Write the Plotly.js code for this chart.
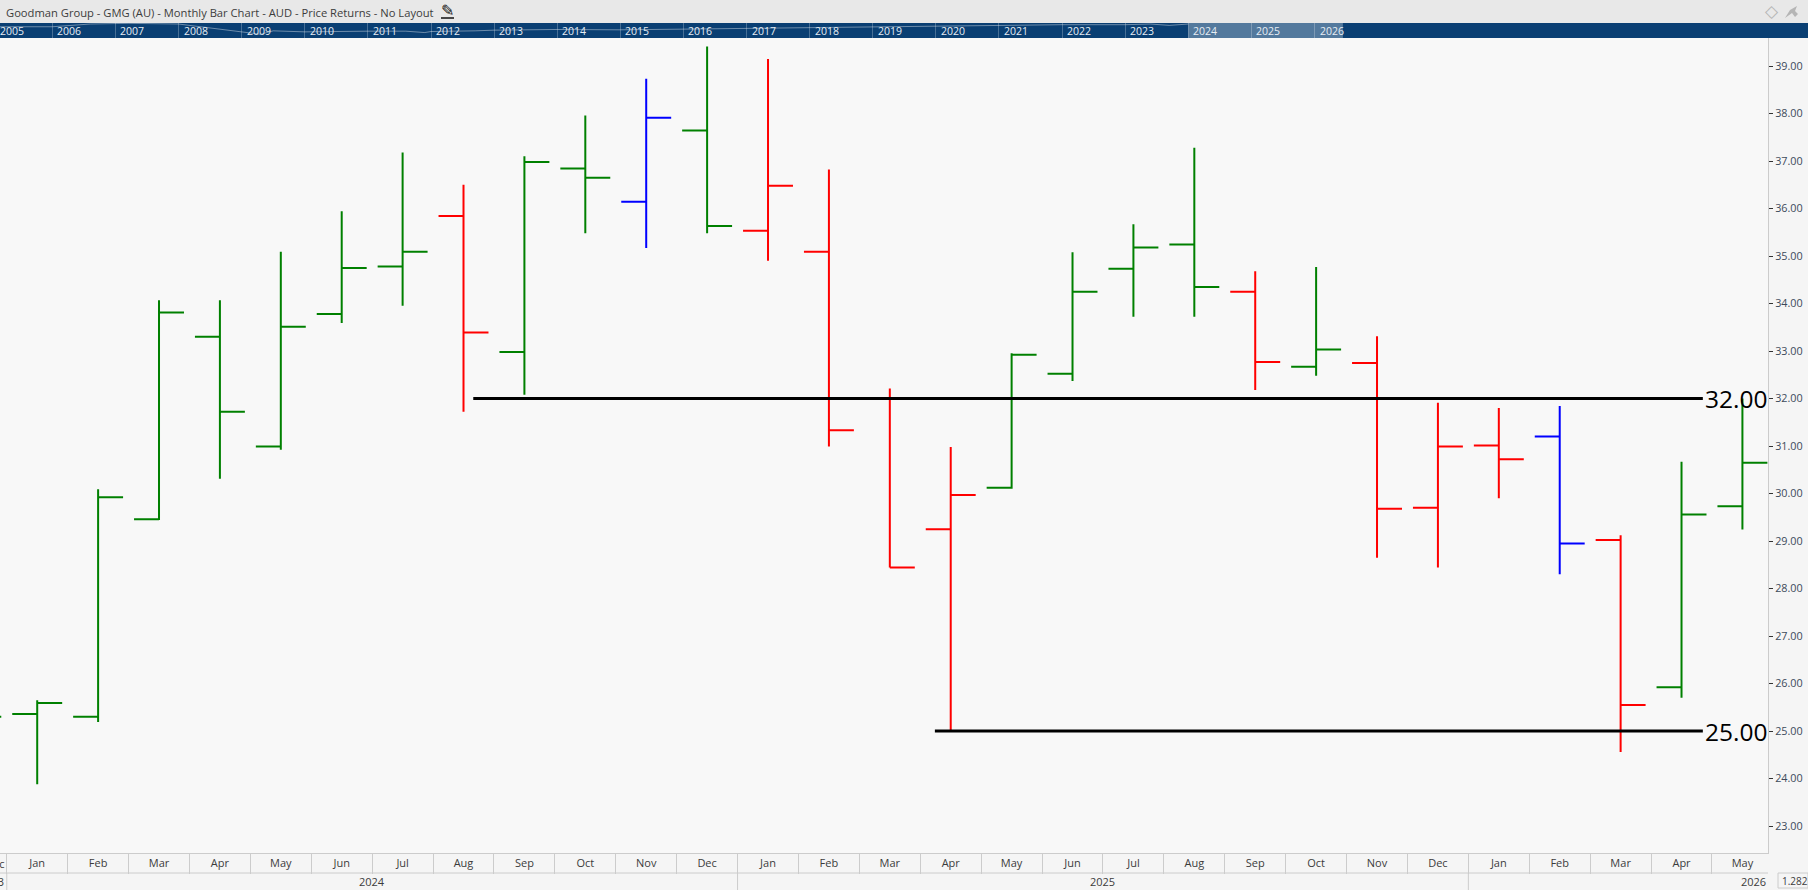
<!DOCTYPE html>
<html>
<head>
<meta charset="utf-8">
<script src="https://cdn.plot.ly/plotly-3.0.1.min.js"></script>
<style>html,body{margin:0;padding:0;background:#f5f5f5;overflow:hidden}</style>
</head>
<body>
<div id="chart" style="width:1808px;height:890px"></div>
<script>
// monthly bars, Jan 2024 = index 0, Dec 2023 is the clipped one on the left edge
const monthLabels = ['Jan','Feb','Mar','Apr','May','Jun','Jul','Aug','Sep','Oct','Nov','Dec',
                     'Jan','Feb','Mar','Apr','May','Jun','Jul','Aug','Sep','Oct','Nov','Dec',
                     'Jan','Feb','Mar','Apr','May'];
const barIndex = [-1,0,1,2,3,4,5,6,7,8,9,10,11,12,13,14,15,16,17,18,19,20,21,22,23,24,25,26,27,28];
const opens  = [25.0,25.36,25.30,29.46,33.30,30.99,33.78,34.78,35.84,32.98,36.84,36.14,37.64,35.53,35.09,32.0,29.25,30.12,32.52,34.73,35.24,34.25,32.67,32.75,29.70,31.01,31.20,29.02,25.92,29.73];
const highs  = [25.5,25.65,30.09,34.07,34.07,35.09,35.94,37.18,36.50,37.10,37.96,38.73,39.41,39.15,36.82,32.21,30.98,32.95,35.08,35.67,37.28,34.68,34.77,33.31,31.91,31.80,31.84,29.12,30.67,32.0];
const lows   = [25.0,23.88,25.19,29.44,30.31,30.92,33.59,33.95,31.72,32.08,35.48,35.17,35.48,34.90,30.99,28.44,24.99,30.10,32.37,33.72,33.72,32.18,32.48,28.65,28.44,29.90,28.30,24.56,25.70,29.24];
const closes = [25.30,25.59,29.92,33.81,31.72,33.51,34.75,35.09,33.39,36.98,36.65,37.91,35.63,36.48,31.33,28.44,29.97,32.92,34.25,35.18,34.35,32.77,33.03,29.68,30.99,30.72,28.95,25.55,29.56,30.65];
const barColors = ['g','g','g','g','g','g','g','g','r','g','g','b','g','r','r','r','r','g','g','g','g','r','g','r','r','r','b','r','g','g'];

// hand drawn levels
const levelPrices = [32, 25];
const levelStarts = [7.16, 14.74];
const levelEnds   = [27.35, 27.35];

// overview strip
const overviewYears  = [2005.0,2006,2006.6,2007.2,2008,2008.6,2009,2009.3,2009.5,2010,2011,2011.6,2011.9,2012,2012.7,2013,2014,2015,2016,2017,2018,2019,2020,2021,2022,2023,2023.4,2023.7,2024];
const overviewLevels = [33,33,41,43,41,28,18,11,21,18,20,20,16,19,21,23,25,24,26,28,31,33,35,38,39,39,41,37,41];
const overviewYearLabels = [2005,2006,2007,2008,2009,2010,2011,2012,2013,2014,2015,2016,2017,2018,2019,2020,2021,2022,2023,2024,2025,2026];

const GREEN = '#008000';
const RED = '#ff0000';
const BLUE = '#0000ff';
const FONT = '"Open Sans", sans-serif';
const TEXT = '#3c3c3c';
const RULE = '#cccccc';
const W = 1808, H = 890;

function ohlcTrace(key, color) {
  const keep = barIndex.map((_, i) => i).filter(i => barColors[i] === key);
  return {
    type: 'ohlc',
    x: keep.map(i => barIndex[i]),
    open: keep.map(i => opens[i]),
    high: keep.map(i => highs[i]),
    low: keep.map(i => lows[i]),
    close: keep.map(i => closes[i]),
    tickwidth: 0.41,
    increasing: { line: { color, width: 2 } },
    decreasing: { line: { color, width: 2 } },
    hoverinfo: 'none',
    showlegend: false,
  };
}

const levelTraces = levelPrices.map((p, i) => ({
  type: 'scatter', mode: 'lines',
  x: [levelStarts[i], levelEnds[i]], y: [p, p],
  line: { color: '#000', width: 3 },
  hoverinfo: 'none', showlegend: false,
}));

const overviewTrace = {
  type: 'scatter', mode: 'lines',
  x: overviewYears, y: overviewLevels,
  xaxis: 'x2', yaxis: 'y2',
  line: { color: 'rgba(255,255,255,0.4)', width: 1 },
  hoverinfo: 'none', showlegend: false,
};

const data = [ohlcTrace('g', GREEN), ohlcTrace('r', RED), ohlcTrace('b', BLUE), ...levelTraces, overviewTrace];

const px = v => v / W;      // pixel to paper x
const py = v => 1 - v / H;  // pixel to paper y

const separators = [];
for (let i = -0.5; i <= 28.5; i += 1) separators.push(i);

const annotations = [];
function txt(text, xref, x, y, opts) {
  annotations.push(Object.assign({
    text, xref, x, yref: 'paper', y: py(y), showarrow: false,
    xanchor: 'left', yanchor: 'middle',
    font: { family: FONT, size: 11, color: TEXT },
  }, opts || {}));
}
txt('Goodman Group - GMG (AU) - Monthly Bar Chart - AUD - Price Returns - No Layout', 'paper', px(4), 12, { font: { family: FONT, size: 11.2, color: TEXT } });
txt('✎', 'paper', px(439), 11, { font: { family: 'DejaVu Sans', size: 16, color: '#111' } });
txt('◇', 'paper', px(1763), 11, { font: { family: 'DejaVu Sans', size: 17, color: '#b5b5b5' } });

// overview year labels, 2005 starts left of the strip's range so it hangs off the paper edge
overviewYearLabels.forEach(y => {
  annotations.push({
    text: String(y),
    xref: y === 2005 ? 'paper' : 'x2', x: y === 2005 ? 0 : y,
    yref: 'paper', y: py(30.5),
    xshift: y === 2005 ? -2 : 3, showarrow: false, xanchor: 'left', yanchor: 'middle',
    font: { family: FONT, size: 10.5, color: '#e6edf4' },
  });
});

// lower date row
txt('Dec', 'x', -0.52, 863, { xanchor: 'right' });
txt('2023', 'x', -0.52, 881, { xanchor: 'right' });
txt('2024', 'x', 5.5, 881, { xanchor: 'center' });
txt('2025', 'x', 17.5, 881, { xanchor: 'center' });
txt('2026', 'x', 28.18, 881, { xanchor: 'center' });
txt('1.282', 'paper', px(1780), 881, { font: { family: FONT, size: 10, color: TEXT } });

// level labels
levelPrices.forEach(p => {
  annotations.push({
    text: p.toFixed(2), xref: 'paper', x: px(1769), yref: 'y', y: p,
    showarrow: false, xanchor: 'right', yanchor: 'middle',
    font: { family: FONT, size: 24.5, color: '#000' },
  });
});

const shapes = [
  // title strip
  { type: 'rect', xref: 'paper', yref: 'paper', x0: 0, x1: 1, y0: py(23), y1: py(0), fillcolor: '#e8e8e8', line: { width: 0 }, layer: 'below' },
  // overview band
  { type: 'rect', xref: 'paper', yref: 'paper', x0: 0, x1: 1, y0: py(38), y1: py(23), fillcolor: '#0a3f73', line: { width: 0 }, layer: 'below' },
  // overview selection
  { type: 'rect', xref: 'x2', yref: 'paper', x0: 2024, x1: 2026.45, y0: py(38), y1: py(23), fillcolor: 'rgba(255,255,255,0.3)', line: { width: 0 } },
  // date rows
  { type: 'line', xref: 'paper', yref: 'paper', x0: 0, x1: px(1768), y0: py(873), y1: py(873), line: { color: RULE, width: 1 } },
  // year dividers
  { type: 'line', xref: 'x', yref: 'paper', x0: -0.5, x1: -0.5, y0: py(890), y1: py(873), line: { color: RULE, width: 1 } },
  { type: 'line', xref: 'x', yref: 'paper', x0: 11.5, x1: 11.5, y0: py(890), y1: py(873), line: { color: RULE, width: 1 } },
  { type: 'line', xref: 'x', yref: 'paper', x0: 23.5, x1: 23.5, y0: py(890), y1: py(873), line: { color: RULE, width: 1 } },
  // scale box
  { type: 'rect', xref: 'paper', yref: 'paper', x0: px(1778), x1: px(1808), y0: py(888), y1: py(873), line: { color: RULE, width: 1 }, fillcolor: 'rgba(0,0,0,0)' },
  // pencil underline and pin
  { type: 'line', xref: 'paper', yref: 'paper', x0: px(441), x1: px(454), y0: py(18), y1: py(18), line: { color: '#111', width: 1.5 } },
  { type: 'path', xref: 'paper', yref: 'paper', xsizemode: 'pixel', ysizemode: 'pixel', xanchor: px(1791), yanchor: py(12),
    path: 'M -6 -6 L 1 -1 L 4 -5 L 7 -2 L 4 1 L 6 6 L -1 2 Z', fillcolor: '#b5b5b5', line: { width: 0 } },
];

const layout = {
  width: W, height: H,
  margin: { l: 0, r: 0, t: 0, b: 0, pad: 0 },
  paper_bgcolor: '#f5f5f5',
  plot_bgcolor: '#f8f8f8',
  font: { family: FONT, size: 11, color: TEXT },
  showlegend: false,
  hovermode: false,
  dragmode: false,
  xaxis: {
    type: 'linear',
    domain: [0, 1768 / W],
    range: [-0.611, 28.42],
    tickmode: 'array',
    tickvals: monthLabels.map((_, i) => i),
    ticktext: monthLabels,
    ticks: '',
    tickfont: { family: FONT, size: 11, color: TEXT },
    showgrid: false, zeroline: false,
    showline: true, linecolor: RULE, linewidth: 1,
    minor: { tickmode: 'array', tickvals: separators, ticks: 'outside', ticklen: 20, tickcolor: RULE, tickwidth: 1, showgrid: false },
    rangeslider: { visible: false },
    fixedrange: true,
  },
  yaxis: {
    type: 'linear',
    side: 'right',
    domain: [py(853), py(38)],
    range: [39 - (853 - 66) / 47.5, 39 + (66 - 38) / 47.5],
    tick0: 0, dtick: 1,
    tickformat: '.2f',
    ticks: 'outside', ticklen: 4, tickcolor: '#333', tickwidth: 1,
    tickfont: { family: FONT, size: 10.8, color: '#3c4a5a' },
    showgrid: false, zeroline: false,
    showline: true, linecolor: RULE, linewidth: 1,
    fixedrange: true,
  },
  // overview strip across the full width, 15 px tall
  xaxis2: {
    type: 'linear', anchor: 'y2', domain: [0, 1],
    range: [2005.17, 2033.82],
    tickmode: 'array',
    tickvals: overviewYearLabels.slice(1),
    showticklabels: false, ticks: '',
    showgrid: true, gridcolor: 'rgba(255,255,255,0.25)', gridwidth: 1,
    zeroline: false, showline: false, fixedrange: true,
  },
  yaxis2: {
    type: 'linear', anchor: 'x2',
    domain: [py(38), py(23)],
    range: [0, 44],
    showticklabels: false, ticks: '', showgrid: false, zeroline: false, showline: false, fixedrange: true,
  },
  shapes,
  annotations,
};

Plotly.newPlot('chart', data, layout, { displayModeBar: false, staticPlot: true });
</script>
</body>
</html>
